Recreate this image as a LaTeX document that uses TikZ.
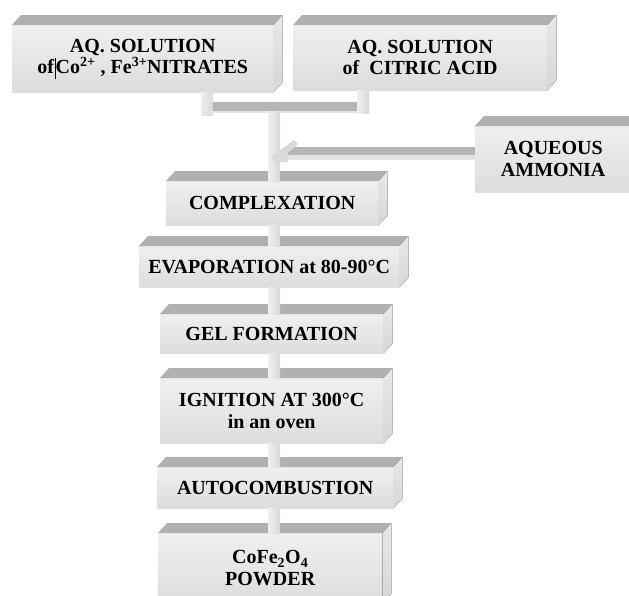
\documentclass[tikz,border=0pt]{standalone}
\usepackage{fontspec}
\setmainfont{Liberation Serif}
\usetikzlibrary{calc}
\tikzset{
  x=1pt, y=-1pt,
  boxfront/.style={anchor=north west, inner sep=0pt, align=center,
    top color=gray!12, middle color=gray!3, bottom color=gray!27,
    font=\bfseries\fontsize{20}{21.5}\selectfont, text=black},
  bevel/.style={fill=gray!62},
  sideface/.style={top color=gray!18, bottom color=gray!32},
  bar/.style={left color=gray!12, right color=gray!30},
  darkbar/.style={fill=gray!58},
}
\newcommand\bevelside[1]{%
  \fill[bevel] (#1.north west) -- ++(9,-10) -- ($(#1.north east)+(9,-10)$) -- (#1.north east) -- cycle;
  \fill[sideface] (#1.north east) -- ++(9,-10) -- ($(#1.south east)+(9,-10)$) -- (#1.south east) -- cycle;
}
\begin{document}
\begin{tikzpicture}
\path[use as bounding box, clip] (0,0) rectangle (629,595);
\fill[white] (0,0) rectangle (629,595);
% boxes
\node[boxfront, minimum width=261pt, minimum height=67pt] (nit) at (12,25)
  {AQ. SOLUTION\\of\hspace{1pt}\rule[-5pt]{0.7pt}{21pt}Co\textsuperscript{2+} , Fe\textsuperscript{3+}NITRATES};
\node[boxfront, minimum width=254pt, minimum height=65pt] (cit) at (293,25)
  {AQ. SOLUTION\\of\ \ CITRIC ACID};
\node[boxfront, minimum width=156pt, minimum height=66pt] (amm) at (475,126)
  {AQUEOUS\\AMMONIA};
\node[boxfront, minimum width=212pt, minimum height=44pt] (cpx) at (166,181)
  {COMPLEXATION};
\node[boxfront, minimum width=260pt, minimum height=41pt] (evp) at (139,246)
  {EVAPORATION at 80-90°C};
\node[boxfront, minimum width=223pt, minimum height=39pt] (gel) at (160,314)
  {GEL FORMATION};
\node[boxfront, minimum width=223pt, minimum height=65pt] (ign) at (160,378)
  {IGNITION AT 300°C\\in an oven};
\node[boxfront, minimum width=236pt, minimum height=41pt] (aut) at (157,467)
  {AUTOCOMBUSTION};
\node[boxfront, minimum width=224pt, minimum height=70pt] (pow) at (158,533)
  {CoFe\textsubscript{2}O\textsubscript{4}\\POWDER};
\foreach \n in {nit,cit,amm,cpx,evp,gel,ign,aut,pow} {\bevelside{\n}}
% top joining connector
\fill[bar] ($(nit.south west)+(189,0)$) rectangle ($(nit.south west)+(201,23)$);
\fill[bar] ($(cit.south west)+(64,0)$) rectangle ($(cit.south west)+(76,23)$);
\fill[darkbar] ($(nit.south west)+(201,10)$) rectangle ($(cit.south west)+(64,21)$);
\fill[gray!22] ($(nit.south west)+(189,19)$) rectangle ($(cit.south west)+(64,23)$);
% trunk
\coordinate (tk) at (274,0);
\fill[bar] ($(tk)+(-6,111)$) rectangle ($(tk|-cpx.north)+(6,0)$);
\foreach \a/\b in {cpx/evp,evp/gel,gel/ign,ign/aut,aut/pow}
  {\fill[bar] ($(tk|-\a.south)+(-6,0)$) rectangle ($(tk|-\b.north)+(6,0)$);}
% ammonia arrow
\fill[darkbar] ($(amm.north west)+(-187,21)$) rectangle ($(amm.north west)+(0,29)$);
\fill[gray!22] ($(amm.north west)+(-193,29)$) rectangle ($(amm.north west)+(0,34)$);
\coordinate (tip) at ($(tk)+(-3,157)$);
\fill[gray!30] (tip) -- ++(23,-17) -- ++(4,4) -- ++(-10,9) -- ++(0,9) -- ++(-13,0) -- cycle;
\end{tikzpicture}
\end{document}
